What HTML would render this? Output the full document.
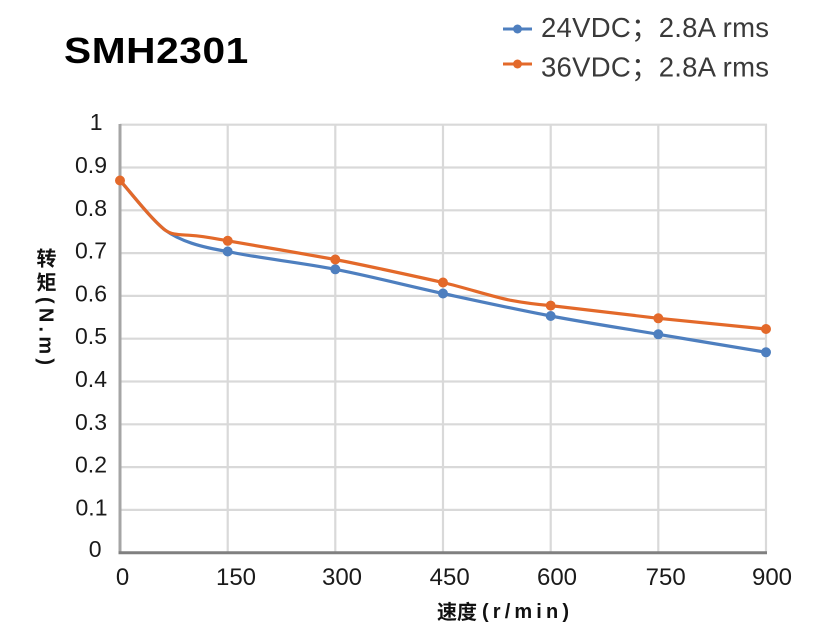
<!DOCTYPE html>
<html>
<head>
<meta charset="utf-8">
<style>
  html, body { margin: 0; padding: 0; background: #ffffff; }
  body { width: 831px; height: 640px; overflow: hidden; }
  svg { display: block; }
  .tick { font-family: "Liberation Sans", "Noto Sans CJK SC", sans-serif; font-size: 23px; fill: #1a1a1a; }
  .xt { font-family: "Liberation Sans", "Noto Sans CJK SC", sans-serif; font-size: 24px; fill: #1a1a1a; }
  .leg { font-family: "Liberation Sans", "Noto Sans CJK SC", sans-serif; font-size: 27.5px; fill: #3a3a3a; }
  .cjk { font-family: "Noto Sans CJK SC", "WenQuanYi Zen Hei", sans-serif; font-weight: bold; font-size: 20px; fill: #111; }
  .lat { font-family: "Liberation Sans", "Noto Sans CJK SC", sans-serif; font-weight: bold; font-size: 20px; fill: #111; }
</style>
</head>
<body>
<svg width="831" height="640" viewBox="0 0 831 640" xmlns="http://www.w3.org/2000/svg">
  <rect x="0" y="0" width="831" height="640" fill="#ffffff"/>

  <!-- Title -->
  <g transform="translate(64,63) scale(1.13,1)">
    <text x="0" y="0" font-family="Liberation Sans, sans-serif" font-weight="bold" font-size="36" fill="#000" letter-spacing="0.5">SMH2301</text>
  </g>

  <!-- Legend -->
  <line x1="503" y1="29" x2="532" y2="29" stroke="#4e7fbf" stroke-width="3"/>
  <circle cx="517.5" cy="29" r="4.5" fill="#4e7fbf"/>
  <text class="leg" x="541" y="37" textLength="228" lengthAdjust="spacing">24VDC<tspan font-family="Noto Sans CJK SC, sans-serif">；</tspan>2.8A rms</text>
  <line x1="503" y1="64" x2="532" y2="64" stroke="#e3692a" stroke-width="3"/>
  <circle cx="517.5" cy="64" r="4.5" fill="#e3692a"/>
  <text class="leg" x="541" y="76.5" textLength="228" lengthAdjust="spacing">36VDC<tspan font-family="Noto Sans CJK SC, sans-serif">；</tspan>2.8A rms</text>

  <!-- Horizontal gridlines -->
  <g stroke="#d9d9d9" stroke-width="2.2">
    <line x1="120" y1="124.7" x2="767" y2="124.7"/>
    <line x1="120" y1="167.5" x2="767" y2="167.5"/>
    <line x1="120" y1="210.3" x2="767" y2="210.3"/>
    <line x1="120" y1="253.1" x2="767" y2="253.1"/>
    <line x1="120" y1="295.9" x2="767" y2="295.9"/>
    <line x1="120" y1="338.7" x2="767" y2="338.7"/>
    <line x1="120" y1="381.5" x2="767" y2="381.5"/>
    <line x1="120" y1="424.3" x2="767" y2="424.3"/>
    <line x1="120" y1="467.1" x2="767" y2="467.1"/>
    <line x1="120" y1="509.9" x2="767" y2="509.9"/>
    <!-- Vertical gridlines -->
    <line x1="227.7" y1="124" x2="227.7" y2="552"/>
    <line x1="335.3" y1="124" x2="335.3" y2="552"/>
    <line x1="443" y1="124" x2="443" y2="552"/>
    <line x1="550.7" y1="124" x2="550.7" y2="552"/>
    <line x1="658.3" y1="124" x2="658.3" y2="552"/>
    <line x1="766" y1="124" x2="766" y2="552"/>
  </g>

  <!-- Axes -->
  <line x1="120" y1="124" x2="120" y2="554" stroke="#a5a5a5" stroke-width="3"/>
  <line x1="118.5" y1="552.7" x2="767" y2="552.7" stroke="#808080" stroke-width="3"/>

  <!-- Y tick labels -->
  <text class="tick" x="102.5" y="130.2" text-anchor="end">1</text>
  <text class="tick" x="107" y="173" text-anchor="end">0.9</text>
  <text class="tick" x="107" y="215.8" text-anchor="end">0.8</text>
  <text class="tick" x="107" y="258.6" text-anchor="end">0.7</text>
  <text class="tick" x="107" y="301.4" text-anchor="end">0.6</text>
  <text class="tick" x="107" y="344.2" text-anchor="end">0.5</text>
  <text class="tick" x="107" y="387" text-anchor="end">0.4</text>
  <text class="tick" x="107" y="429.8" text-anchor="end">0.3</text>
  <text class="tick" x="107" y="472.6" text-anchor="end">0.2</text>
  <text class="tick" x="107.5" y="515.4" text-anchor="end">0.1</text>
  <text class="tick" x="101.5" y="557" text-anchor="end">0</text>

  <!-- X tick labels -->
  <text class="xt" x="122.5" y="585" text-anchor="middle">0</text>
  <text class="xt" x="236" y="585" text-anchor="middle">150</text>
  <text class="xt" x="342" y="585" text-anchor="middle">300</text>
  <text class="xt" x="449.7" y="585" text-anchor="middle">450</text>
  <text class="xt" x="557" y="585" text-anchor="middle">600</text>
  <text class="xt" x="665.7" y="585" text-anchor="middle">750</text>
  <text class="xt" x="772" y="585" text-anchor="middle">900</text>

  <!-- X axis title -->
  <text class="cjk" x="437" y="619">速度</text>
  <text class="lat" x="482" y="618" textLength="87" lengthAdjust="spacing">(r/min)</text>

  <!-- Y axis title -->
  <text class="cjk" x="36.5" y="265.5">转</text>
  <text class="cjk" x="36.5" y="289.5">矩</text>
  <g transform="translate(39.5,297) rotate(90)">
    <text class="lat" x="0" y="0" font-size="19" textLength="68" lengthAdjust="spacing">(N.m)</text>
  </g>

  <!-- Series: 24VDC (blue) -->
  <path d="M120,180.5 C128,189 150,218 165,230 C180,241 200,247 227.7,251.5
           C255.75,257.72 299.42,262.3 335.3,269.3
           C371.18,276.3 407.1,285.72 443,293.5
           C478.9,301.28 514.82,309.2 550.7,316
           C586.58,322.8 622.42,328.25 658.3,334.3
           C694.18,340.35 748.05,349.3 766,352.3"
        fill="none" stroke="#4e7fbf" stroke-width="3.2" stroke-linejoin="round" stroke-linecap="round"/>

  <!-- Series: 36VDC (orange) -->
  <path d="M120,180.5 C128,189 150,218 165,230 C172,235 178,234.6 190,235.3
           C205,236.3 215,238.6 227.7,240.8
           C264,247 299,253 335.3,259.5
           C371,266.5 407,274.5 443,282.5
           C468,288.5 490,296 510,300.2
           C525,303 538,304.6 550.7,305.6
           C586,309.5 622,314.2 658.3,318.3
           C694,322 730,325.6 766,329"
        fill="none" stroke="#e3692a" stroke-width="3.2" stroke-linejoin="round" stroke-linecap="round"/>

  <!-- Blue markers -->
  <g fill="#4e7fbf">
    <circle cx="227.7" cy="251.5" r="5"/>
    <circle cx="335.3" cy="269.3" r="5"/>
    <circle cx="443" cy="293.5" r="5"/>
    <circle cx="550.7" cy="316" r="5"/>
    <circle cx="658.3" cy="334.3" r="5"/>
    <circle cx="766" cy="352.3" r="5"/>
  </g>
  <!-- Orange markers -->
  <g fill="#e3692a">
    <circle cx="120" cy="180.5" r="5"/>
    <circle cx="227.7" cy="240.8" r="5"/>
    <circle cx="335.3" cy="259.5" r="5"/>
    <circle cx="443" cy="282.5" r="5"/>
    <circle cx="550.7" cy="305.6" r="5"/>
    <circle cx="658.3" cy="318.3" r="5"/>
    <circle cx="766" cy="329" r="5"/>
  </g>
</svg>
</body>
</html>
